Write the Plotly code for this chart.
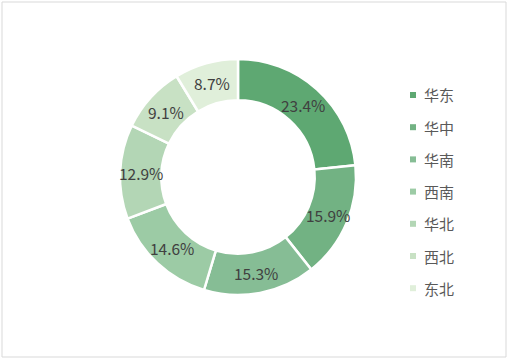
import math
import plotly.graph_objects as go

regions = ["华东", "华中", "华南", "西南", "华北", "西北", "东北"]
shares = [23.4, 15.9, 15.3, 14.6, 12.9, 9.1, 8.7]
colors = ["#5EA872", "#72B283", "#86BD95", "#9CCBA5", "#B3D6B5", "#C8E1C4", "#E0EFDA"]

W, H = 508, 360
cx, cy, R = 238, 177, 118
HOLE = 0.65

fig = go.Figure(go.Pie(
    labels=regions,
    values=shares,
    sort=False,
    direction="clockwise",
    rotation=0,
    hole=HOLE,
    marker=dict(colors=colors, line=dict(color="white", width=2.5)),
    textinfo="none",
    hoverinfo="skip",
    domain=dict(x=[(cx - R) / W, (cx + R) / W], y=[1 - (cy + R) / H, 1 - (cy - R) / H]),
    showlegend=False,
))

shapes = [dict(type="rect", xref="paper", yref="paper",
               x0=2 / W, x1=506 / W, y0=1 - 357 / H, y1=1 - 2 / H,
               line=dict(color="#D9D9D9", width=1), fillcolor="rgba(0,0,0,0)")]
annotations = []

# data labels at the middle of each ring segment
total = sum(shares)
rmid = R * (1 + HOLE) / 2
acc = 0.0
for v in shares:
    ang = (acc + v / 2) / total * 2 * math.pi
    acc += v
    x = cx + rmid * math.sin(ang)
    y = cy - rmid * math.cos(ang)
    annotations.append(dict(text=f"{v:.1f}%", xref="paper", yref="paper", x=x / W, y=1 - y / H,
                            xanchor="center", yanchor="middle", showarrow=False,
                            font=dict(family="Noto Sans CJK SC, sans-serif", size=15.5, color="#404040")))

top, gap = 95, 32.2
for i, (name, col) in enumerate(zip(regions, colors)):
    yc = top + i * gap
    shapes.append(dict(type="rect", xref="paper", yref="paper",
                       x0=410 / W, x1=416 / W, y0=1 - (yc + 3) / H, y1=1 - (yc - 3) / H,
                       line=dict(width=0), fillcolor=col))
    annotations.append(dict(text=name, xref="paper", yref="paper", x=422 / W, y=1 - yc / H,
                            xanchor="left", yanchor="middle", showarrow=False,
                            font=dict(family="Noto Sans CJK SC, sans-serif", size=15, color="#595959")))

fig.update_layout(
    width=W, height=H,
    margin=dict(l=0, r=0, t=0, b=0),
    paper_bgcolor="white",
    plot_bgcolor="white",
    shapes=shapes,
    annotations=annotations,
)

fig.write_html("out.html", config={"displayModeBar": False},
               post_script="document.body.style.margin='0';document.body.style.overflow='hidden';")
